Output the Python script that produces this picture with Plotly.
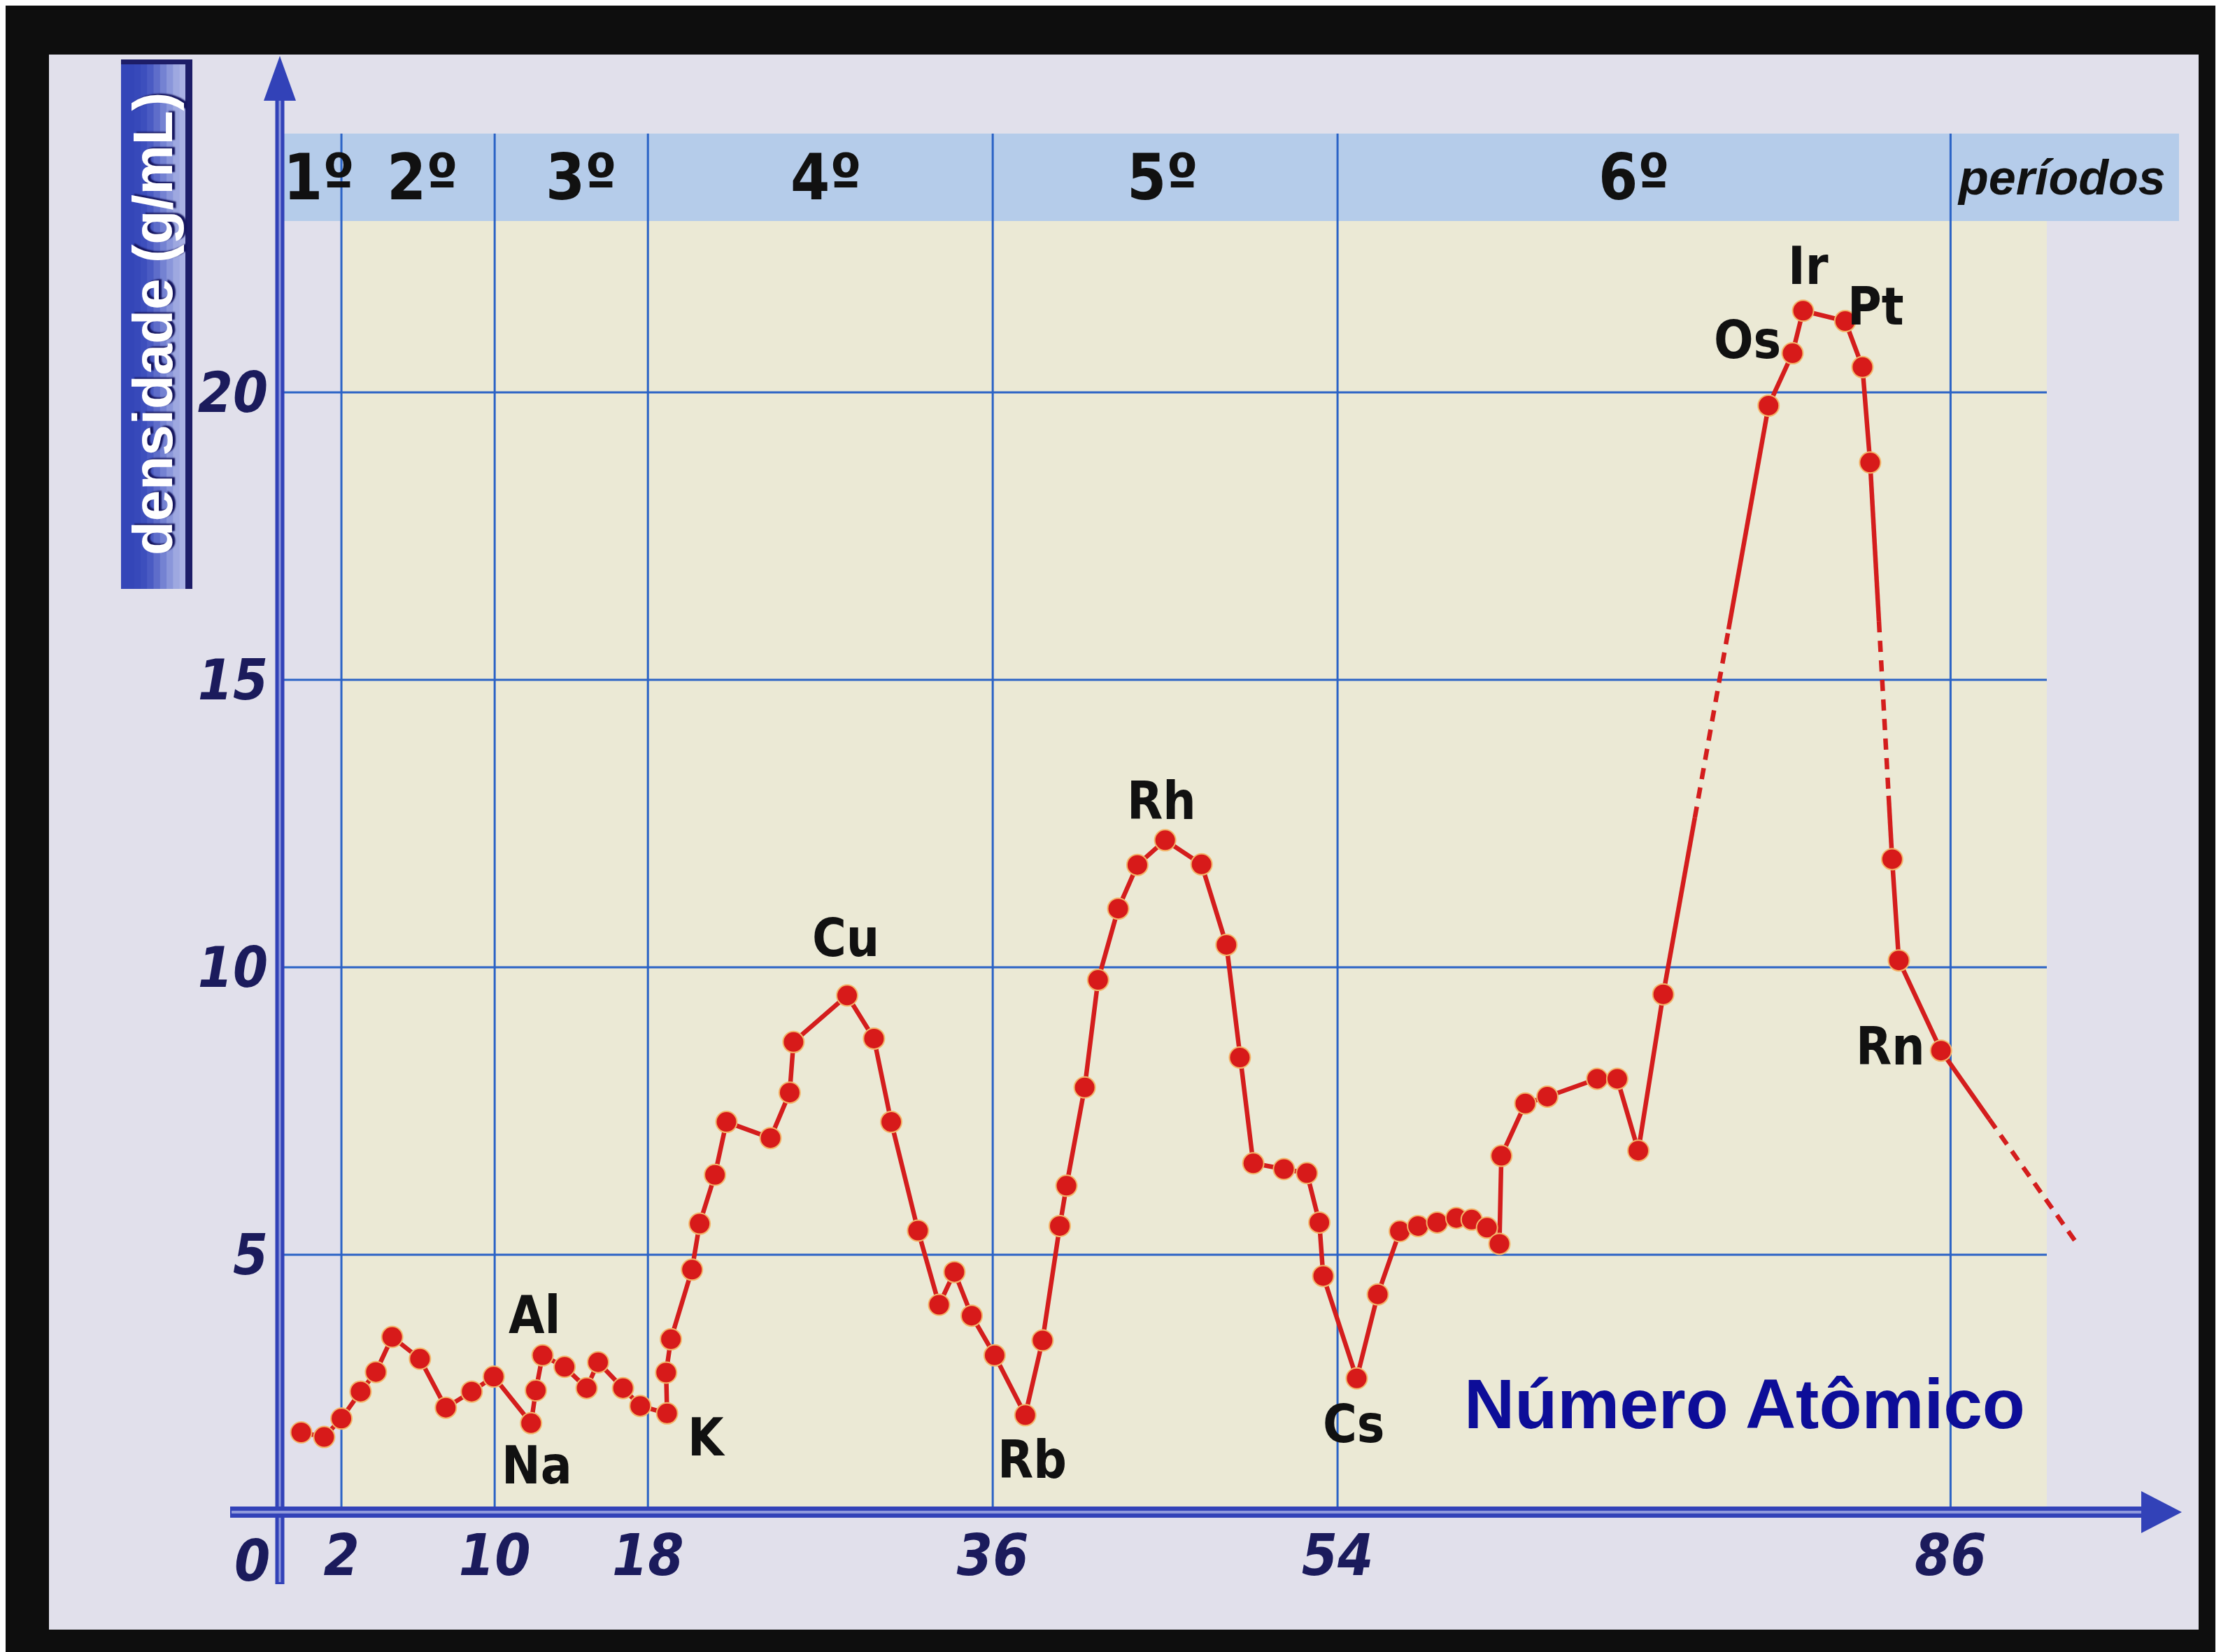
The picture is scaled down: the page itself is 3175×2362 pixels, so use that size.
import plotly.graph_objects as go

# ---------------- data ----------------
elementos_a = ["H", "He", "Li", "Be", "B", "C", "N", "O", "F", "Ne",
               "Na", "Mg", "Al", "Si", "P", "S", "Cl", "Ar",
               "K", "Ca", "Sc", "Ti", "V", "Cr", "Mn", "Fe", "Co", "Ni", "Cu", "Zn",
               "Ga", "Ge", "As", "Se", "Br", "Kr",
               "Rb", "Sr", "Y", "Zr", "Nb", "Mo", "Tc", "Ru", "Rh", "Pd", "Ag", "Cd",
               "In", "Sn", "Sb", "Te", "I",
               "Cs", "Ba", "La", "Ce", "Pr", "Nd", "Pm", "Sm", "Eu", "Gd", "Tb", "Dy",
               "Ho", "Er", "Yb", "Lu"]
numero_a = [-0.1, 1.1, 2.0, 3.0, 3.8, 4.65, 6.1, 7.45, 8.8, 9.95,
            11.9, 12.15, 12.5, 13.65, 14.8, 15.4, 16.7, 17.6,
            19.0, 18.95, 19.2, 20.3, 20.7, 21.5, 22.1, 24.4, 25.4, 25.6, 28.4, 29.8,
            30.7, 32.1, 33.2, 34.0, 34.9, 36.1,
            37.7, 38.6, 39.5, 39.85, 40.8, 41.5, 42.55, 43.55, 45.0, 46.9, 48.2, 48.9,
            49.6, 51.2, 52.4, 53.05, 53.25,
            55.0, 56.1, 57.25, 58.2, 59.2, 60.2, 61.0, 61.8, 62.45, 62.55, 63.8, 64.95,
            67.55, 68.6, 69.7, 71.0]
densidade_a = [1.91, 1.83, 2.15, 2.62, 2.96, 3.57, 3.19, 2.34, 2.62, 2.88,
               2.07, 2.64, 3.25, 3.05, 2.68, 3.13, 2.68, 2.37,
               2.24, 2.95, 3.53, 4.74, 5.54, 6.39, 7.31, 7.03, 7.82, 8.70, 9.51, 8.76,
               7.31, 5.42, 4.13, 4.70, 3.94, 3.25,
               2.21, 3.51, 5.50, 6.20, 7.91, 9.78, 11.02, 11.78, 12.21, 11.79, 10.39, 8.43,
               6.59, 6.49, 6.42, 5.56, 4.63,
               2.85, 4.31, 5.41, 5.50, 5.56, 5.64, 5.61, 5.47, 5.19, 6.72, 7.63, 7.75,
               8.06, 8.06, 6.81, 9.53]

elementos_b = ["W", "Os", "Ir", "Pt", "Au", "Hg"]
numero_b = [76.5, 77.75, 78.3, 80.5, 81.4, 81.8]
densidade_b = [19.77, 20.68, 21.42, 21.24, 20.44, 18.78]

elementos_c = ["Tl", "Pb", "Rn"]
numero_c = [82.95, 83.3, 85.5]
densidade_c = [11.88, 10.12, 8.55]

tendencia_x = [92.5]      # end of the dotted trend after Rn
tendencia_y = [5.24]

x_ticks = [2, 10, 18, 36, 54, 86]
y_ticks = [5, 10, 15, 20]
periodos = ["1º", "2º", "3º", "4º", "5º", "6º"]
rotulos = ["Na", "Al", "K", "Cu", "Rb", "Rh", "Cs", "Os", "Ir", "Pt", "Rn"]

# ---------------- layout geometry (pixels) ----------------
W, H = 3175, 2362
L_PX, R_PX, T_PX, B_PX = 392, 3111, 72, 2157
Y0_PX = 2197                    # pixel row of density 0
X_A, X_B = 425.3, 27.385        # px = X_A + X_B * Z
Y_B = 82.2                      # px per density unit
xmin = (L_PX - X_A) / X_B
xmax = (R_PX - X_A) / X_B
ymin = (Y0_PX - B_PX) / Y_B
ymax = (Y0_PX - T_PX) / Y_B


def px(xp):
    return (xp - L_PX) / (R_PX - L_PX)


def py(yp):
    return (B_PX - yp) / (B_PX - T_PX)


def zx(xp):
    return (xp - X_A) / X_B


def dy(yp):
    return (Y0_PX - yp) / Y_B


AXIS_Y = dy(2157)
BAND_TOP = dy(183)
BAND_BOT = dy(308)
GRID_END = zx(2918)
BAND_END = zx(3107)

NARROW = "Liberation Sans Narrow, Arial Narrow, DejaVu Sans Condensed, sans-serif"
SANS = "Liberation Sans, Arial, sans-serif"
RED = "#D41D1D"
GRID = "#2b63c6"
NAVY = "#1b1b5c"
AXBLUE = "#3242b8"

shapes = []
# page (inside the black frame)
shapes.append(dict(type="rect", xref="paper", yref="paper", x0=px(62), x1=px(3135),
                   y0=py(2322), y1=py(70), fillcolor="#E1E0EB", line=dict(width=0), layer="below"))
# cream chart area
shapes.append(dict(type="rect", xref="x", yref="y", x0=x_ticks[0], x1=GRID_END,
                   y0=AXIS_Y, y1=BAND_TOP, fillcolor="#EBE9D5", line=dict(width=0), layer="below"))
# periods band
shapes.append(dict(type="rect", xref="x", yref="y", x0=xmin, x1=BAND_END,
                   y0=BAND_BOT, y1=BAND_TOP, fillcolor="#B5CCEA", line=dict(width=0), layer="below"))
# grid lines
for v in x_ticks:
    shapes.append(dict(type="line", xref="x", yref="y", x0=v, x1=v, y0=AXIS_Y, y1=BAND_TOP,
                       line=dict(color=GRID, width=3), layer="below"))
for h in y_ticks:
    shapes.append(dict(type="line", xref="x", yref="y", x0=xmin, x1=GRID_END, y0=h, y1=h,
                       line=dict(color=GRID, width=3), layer="below"))

# y axis arrow
shapes.append(dict(type="line", xref="paper", yref="paper", x0=px(392), x1=px(392),
                   y0=py(2257), y1=py(128), line=dict(color=AXBLUE, width=13), layer="above"))
shapes.append(dict(type="line", xref="paper", yref="paper", x0=px(392), x1=px(392),
                   y0=py(2254), y1=py(130), line=dict(color="#8f99dc", width=3), layer="above"))
shapes.append(dict(type="path", xref="paper", yref="paper",
                   path=f"M {px(392)},{py(72)} L {px(369)},{py(136)} L {px(415)},{py(136)} Z",
                   fillcolor=AXBLUE, line=dict(width=0), layer="above"))
# x axis arrow
shapes.append(dict(type="line", xref="paper", yref="paper", x0=px(321), x1=px(3060),
                   y0=py(2154), y1=py(2154), line=dict(color=AXBLUE, width=16), layer="above"))
shapes.append(dict(type="line", xref="paper", yref="paper", x0=px(323), x1=px(3058),
                   y0=py(2154), y1=py(2154), line=dict(color="#8f99dc", width=4), layer="above"))
shapes.append(dict(type="path", xref="paper", yref="paper",
                   path=f"M {px(3111)},{py(2154)} L {px(3053)},{py(2124)} L {px(3053)},{py(2184)} Z",
                   fillcolor=AXBLUE, line=dict(width=0), layer="above"))

# y label box (gradient imitated with stripes)
stripe_cols = ["#3446b8", "#3446b8", "#3749ba", "#3d4fbd", "#4a5bc3", "#5e6dca",
               "#7482d2", "#8a96da", "#9ea8e0", "#aab2e4"]
x_left, x_right = 165, 258
n = len(stripe_cols)
for i, c in enumerate(stripe_cols):
    shapes.append(dict(type="rect", xref="paper", yref="paper",
                       x0=px(x_left + (x_right - x_left) * i / n),
                       x1=px(x_left + (x_right - x_left) * (i + 1) / n + 1),
                       y0=py(834), y1=py(77), fillcolor=c, line=dict(width=0), layer="above"))
shapes.append(dict(type="rect", xref="paper", yref="paper", x0=px(257), x1=px(267),
                   y0=py(834), y1=py(77), fillcolor="#1d1d68", line=dict(width=0), layer="above"))
shapes.append(dict(type="rect", xref="paper", yref="paper", x0=px(165), x1=px(267),
                   y0=py(84), y1=py(77), fillcolor="#1d1d68", line=dict(width=0), layer="above"))


# ---------------- traces ----------------
def piece(p, q, f):
    return p[0] + (q[0] - p[0]) * f, p[1] + (q[1] - p[1]) * f


gaps = [((numero_a[-1], densidade_a[-1]), (numero_b[0], densidade_b[0]), 0.30, 0.62),
        ((numero_b[-1], densidade_b[-1]), (numero_c[0], densidade_c[0]), 0.40, 0.84),
        ((numero_c[-1], densidade_c[-1]), (tendencia_x[0], tendencia_y[0]), 0.36, 1.0)]
sx, sy, dx_, dy_ = [], [], [], []
for p, q, f1, f2 in gaps:
    a = piece(p, q, f1)
    b = piece(p, q, f2)
    sx += [p[0], a[0], None]
    sy += [p[1], a[1], None]
    if f2 < 1:
        sx += [b[0], q[0], None]
        sy += [b[1], q[1], None]
    dx_ += [a[0], b[0], None]
    dy_ += [a[1], b[1], None]

LW = 6.5
fig = go.Figure()
fig.add_trace(go.Scatter(x=sx, y=sy, mode="lines", line=dict(color=RED, width=LW),
                         hoverinfo="skip", showlegend=False))
fig.add_trace(go.Scatter(x=dx_, y=dy_, mode="lines",
                         line=dict(color=RED, width=LW, dash="16px,12px"),
                         hoverinfo="skip", showlegend=False))
for xs, ys, names in [(numero_a, densidade_a, elementos_a),
                      (numero_b, densidade_b, elementos_b),
                      (numero_c, densidade_c, elementos_c)]:
    fig.add_trace(go.Scatter(x=xs, y=ys, mode="lines+markers", text=names,
                             line=dict(color=RED, width=LW),
                             marker=dict(size=30, color="#D71A1A",
                                         line=dict(color="#F3B56A", width=2)),
                             showlegend=False))

# ---------------- annotations ----------------
ann = []
all_names = elementos_a + elementos_b + elementos_c
all_x = numero_a + numero_b + numero_c
all_y = densidade_a + densidade_b + densidade_c
offsets = {"Na": (8, -60), "Al": (-12, 58), "K": (56, -34), "Cu": (-2, 82), "Rb": (10, -64),
           "Rh": (-5, 56), "Cs": (-4, -65), "Os": (-64, 19), "Ir": (7, 64), "Pt": (44, 21),
           "Rn": (-72, 6)}
for r in rotulos:
    i = all_names.index(r)
    ox, oy = offsets[r]
    ann.append(dict(x=all_x[i], y=all_y[i], xref="x", yref="y", text=r, showarrow=False,
                    xanchor="center", yanchor="middle", xshift=ox, yshift=oy,
                    font=dict(family=NARROW, size=74, color="#111111", weight="bold")))

bounds = [xmin] + x_ticks
per_shift = [12, 6, 14, 8, -4, -14]
for k, lab in enumerate(periodos):
    ann.append(dict(x=(bounds[k] + bounds[k + 1]) / 2, y=(BAND_TOP + BAND_BOT) / 2,
                    xref="x", yref="y", text=lab, showarrow=False, xshift=per_shift[k],
                    xanchor="center", yanchor="middle",
                    font=dict(family=NARROW, size=90, color="#111111", weight="bold")))
ann.append(dict(x=px(3090), y=(BAND_TOP + BAND_BOT) / 2, xref="paper", yref="y",
                xanchor="right", yanchor="middle", text="períodos", showarrow=False,
                font=dict(family=SANS, size=70, color="#111111", weight="bold", style="italic")))
ann.append(dict(x=px(2486), y=py(1999), xref="paper", yref="paper", text="Número Atômico",
                xanchor="center", yanchor="middle", showarrow=False,
                font=dict(family=SANS, size=100, color="#0d0d98", weight="bold")))
ann.append(dict(x=px(352), y=py(2224), xref="paper", yref="paper", text="0", showarrow=False,
                xanchor="center", yanchor="middle",
                font=dict(family=NARROW, size=82, color=NAVY, weight="bold", style="italic")))
ann.append(dict(x=px(210), y=py(455), xref="paper", yref="paper", text="densidade (g/mL)",
                textangle=-90, showarrow=False, xanchor="center", yanchor="middle",
                font=dict(family=SANS, size=80, color="white", weight="bold",
                          shadow="2px 4px 2px #15155e")))

fig.update_layout(
    width=W, height=H,
    margin=dict(l=L_PX, r=W - R_PX, t=T_PX, b=H - B_PX, pad=0),
    paper_bgcolor="#0e0e0e", plot_bgcolor="rgba(0,0,0,0)",
    shapes=shapes, annotations=ann, showlegend=False,
    xaxis=dict(range=[xmin, xmax], showgrid=False, zeroline=False, showline=False,
               tickvals=x_ticks, ticktext=[str(v) for v in x_ticks], ticks="",
               ticklabelstandoff=4,
               tickfont=dict(family=NARROW, size=82, color=NAVY, weight="bold", style="italic")),
    yaxis=dict(range=[ymin, ymax], showgrid=False, zeroline=False, showline=False,
               tickvals=y_ticks, ticktext=[str(v) for v in y_ticks], ticks="",
               ticklabelstandoff=16,
               tickfont=dict(family=NARROW, size=80, color=NAVY, weight="bold", style="italic")),
)

fig.write_html("out.html")
